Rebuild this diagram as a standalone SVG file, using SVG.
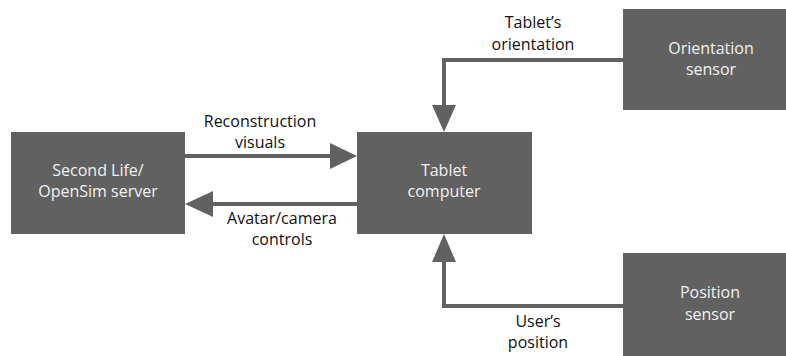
<svg xmlns="http://www.w3.org/2000/svg" width="786" height="356" viewBox="0 0 786 356">
<style>
.box{fill:#616161}
.bt{font-family:"Open Sans","Liberation Sans",sans-serif;font-size:16px;fill:#f2f2f2;text-anchor:middle}
.lt{font-family:"Open Sans","Liberation Sans",sans-serif;font-size:16px;fill:#111;text-anchor:middle}
.ln{fill:none;stroke:#616161;stroke-width:4}
.ah{fill:#616161}
</style>
<rect width="786" height="356" fill="#fff"/>
<g id="server"><rect class="box" x="11" y="132" width="174" height="102"/>
<text class="bt" x="98" y="176">Second Life/</text><text class="bt" x="98" y="197">OpenSim server</text></g>
<g id="tablet"><rect class="box" x="357" y="132" width="175" height="102"/>
<text class="bt" x="444" y="176">Tablet</text><text class="bt" x="444" y="197">computer</text></g>
<g id="orientation"><rect class="box" x="623" y="9" width="163" height="101"/>
<text class="bt" x="711" y="54">Orientation</text><text class="bt" x="711" y="75">sensor</text></g>
<g id="position"><rect class="box" x="623" y="253" width="163" height="103"/>
<text class="bt" x="710" y="298">Position</text><text class="bt" x="710" y="320">sensor</text></g>
<g id="connectors">
<path class="ln" d="M185 156H332"/><polygon class="ah" points="357,156 330,143 330,169"/>
<path class="ln" d="M357 204H210"/><polygon class="ah" points="185,204 213,191 213,217"/>
<path class="ln" d="M623 60H444V108"/><polygon class="ah" points="444,132 432,105 456,105"/>
<path class="ln" d="M623 306H444V258"/><polygon class="ah" points="444,234 432,262 456,262"/>
<text class="lt" x="260" y="127">Reconstruction</text><text class="lt" x="260" y="148">visuals</text>
<text class="lt" x="282" y="224">Avatar/camera</text><text class="lt" x="282" y="245">controls</text>
<text class="lt" x="533" y="28">Tablet’s</text><text class="lt" x="533" y="50">orientation</text>
<text class="lt" x="538" y="327">User’s</text><text class="lt" x="538" y="348">position</text>
</g>
</svg>
